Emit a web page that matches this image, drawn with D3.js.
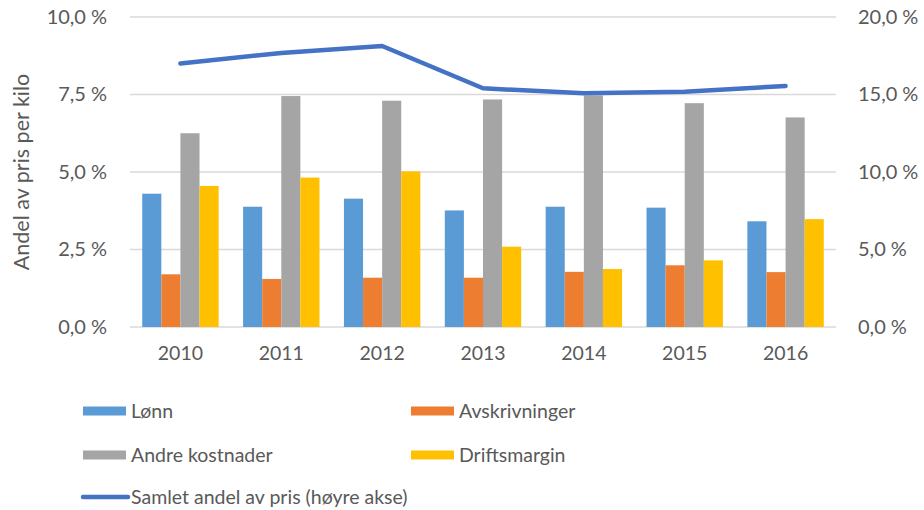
<!DOCTYPE html>
<html><head><meta charset="utf-8">
<script src="https://cdn.jsdelivr.net/npm/d3@7"></script>
<style>
html,body{margin:0;padding:0;background:#fff;}
svg{display:block;font-family:"Lato","Open Sans",sans-serif;}
</style></head>
<body><svg id="chart" width="924" height="510"></svg>
<script>
const years = ["2010","2011","2012","2013","2014","2015","2016"];
const seriesNames = ["Lønn","Avskrivninger","Andre kostnader","Driftsmargin"];
const lonn = [4.30, 3.88, 4.14, 3.76, 3.88, 3.85, 3.41];
const avskrivninger = [1.70, 1.55, 1.59, 1.59, 1.78, 1.99, 1.77];
const andre = [6.25, 7.45, 7.30, 7.34, 7.47, 7.22, 6.76];
const drift = [4.55, 4.82, 5.02, 2.59, 1.87, 2.15, 3.48];
const samlet = [17.0, 17.68, 18.13, 15.4, 15.08, 15.18, 15.55];
const lineName = "Samlet andel av pris (høyre akse)";
const leftTicks = [0, 2.5, 5, 7.5, 10];
const rightTicks = [0, 5, 10, 15, 20];
const colors = ["#5B9BD5","#ED7D31","#A5A5A5","#FFC000"];
const lineColor = "#4472C4";
const textColor = "#595959";

const svg = d3.select("#chart");
const L = 130, R = 836, T = 17, B = 327;
const x = d3.scaleBand().domain(years).range([L, R]).paddingInner(0).paddingOuter(0);
const xInner = d3.scaleBand().domain(seriesNames).range([0, x.bandwidth()]).paddingInner(0).paddingOuter(0.64);
const yL = d3.scaleLinear().domain([0, 10]).range([B, T]);
const yR = d3.scaleLinear().domain([0, 20]).range([B, T]);
const fmt = v => d3.format(".1f")(v).replace(".", ",") + "\u202F%";

// gridlines
svg.append("g").selectAll("line").data(leftTicks).join("line")
  .attr("x1", L).attr("x2", R)
  .attr("y1", d => yL(d)).attr("y2", d => yL(d))
  .attr("stroke", "#D9D9D9").attr("stroke-width", 1.5);

// left axis
const leftAxis = d3.axisLeft(yL).tickValues(leftTicks).tickFormat(fmt).tickSize(0).tickPadding(0);
const gl = svg.append("g").attr("transform", `translate(107,0)`).call(leftAxis);
gl.select(".domain").remove();
gl.selectAll("text").attr("fill", textColor).attr("font-size", 20).attr("font-family", "Lato");

// right axis
const rightAxis = d3.axisRight(yR).tickValues(rightTicks).tickFormat(fmt).tickSize(0).tickPadding(0);
const gr = svg.append("g").attr("transform", `translate(858,0)`).call(rightAxis);
gr.select(".domain").remove();
gr.selectAll("text").attr("fill", textColor).attr("font-size", 20).attr("font-family", "Lato");

// x axis labels
const bottomAxis = d3.axisBottom(x).tickSize(0).tickPadding(0);
const gb = svg.append("g").attr("transform", `translate(0,346)`).call(bottomAxis);
gb.select(".domain").remove();
gb.selectAll("text").attr("fill", textColor).attr("font-size", 19.5).attr("font-family", "Lato");

// y axis title
svg.append("text").attr("transform", `translate(29,${(T+B)/2}) rotate(-90)`)
  .attr("text-anchor", "middle").attr("fill", textColor).attr("font-size", 21.5)
  .text("Andel av pris per kilo");

// bars
const allSeries = [lonn, avskrivninger, andre, drift];
const barData = [];
years.forEach((yr, i) => seriesNames.forEach((s, j) => barData.push({yr, s, v: allSeries[j][i], c: colors[j]})));
svg.append("g").selectAll("rect").data(barData).join("rect")
  .attr("x", d => x(d.yr) + xInner(d.s))
  .attr("width", xInner.bandwidth())
  .attr("y", d => yL(d.v))
  .attr("height", d => yL(0) - yL(d.v))
  .attr("fill", d => d.c);

// line
const line = d3.line().x((d, i) => x(years[i]) + x.bandwidth() / 2).y(d => yR(d));
svg.append("path").datum(samlet).attr("d", line)
  .attr("fill", "none").attr("stroke", lineColor).attr("stroke-width", 4.5)
  .attr("stroke-linecap", "round").attr("stroke-linejoin", "round");

// legend
const legendItems = [
  {name: seriesNames[0], c: colors[0], x: 83, y: 411, type: "rect"},
  {name: seriesNames[1], c: colors[1], x: 411, y: 411, type: "rect"},
  {name: seriesNames[2], c: colors[2], x: 83, y: 455, type: "rect"},
  {name: seriesNames[3], c: colors[3], x: 411, y: 455, type: "rect"},
  {name: lineName, c: lineColor, x: 83, y: 497, type: "line"}
];
const lg = svg.append("g").selectAll("g").data(legendItems).join("g");
lg.filter(d => d.type === "rect").append("rect")
  .attr("x", d => d.x).attr("y", d => d.y - 4.5).attr("width", 43).attr("height", 9).attr("fill", d => d.c);
lg.filter(d => d.type === "line").append("line")
  .attr("x1", d => d.x).attr("x2", d => d.x + 45).attr("y1", d => d.y).attr("y2", d => d.y)
  .attr("stroke", d => d.c).attr("stroke-width", 4.5).attr("stroke-linecap", "round");
lg.append("text").attr("x", d => d.x + 48).attr("y", d => d.y).attr("dy", "0.35em")
  .attr("fill", textColor).attr("font-size", 19.5).text(d => d.name);
</script></body></html>
